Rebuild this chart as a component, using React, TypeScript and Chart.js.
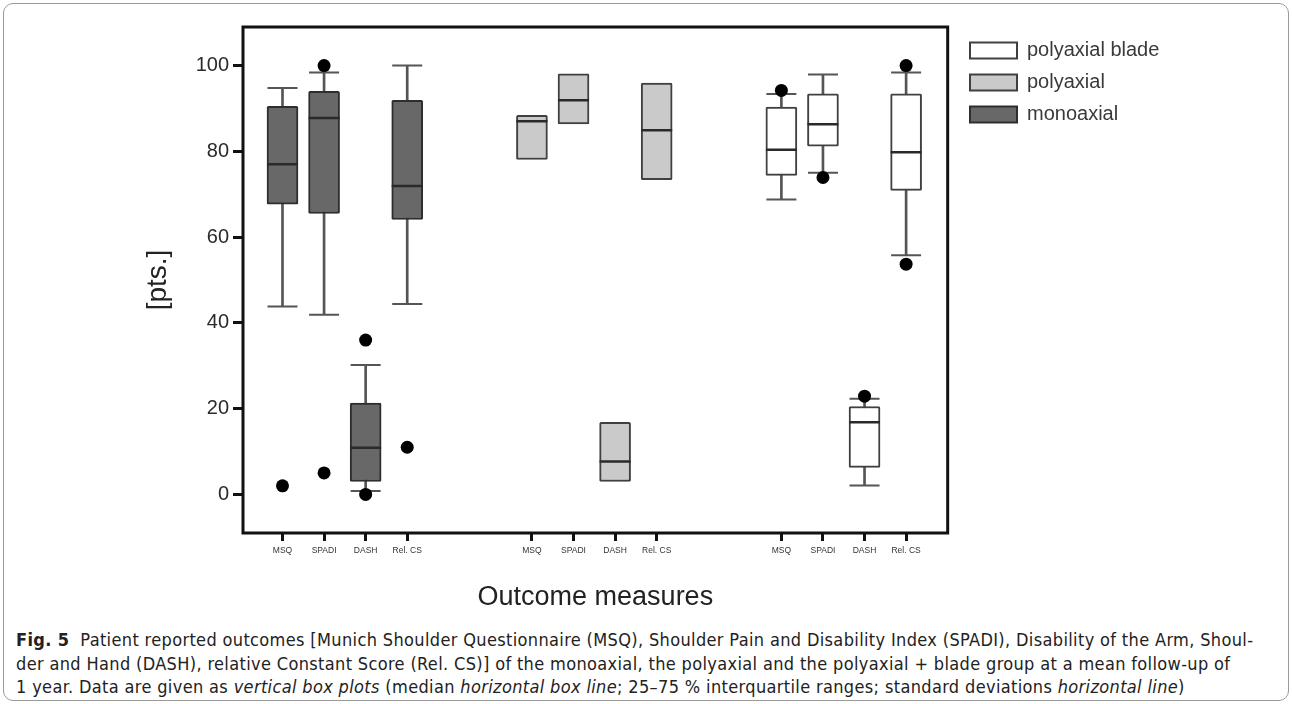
import React, { useEffect, useRef } from "react";
import { Chart, registerables } from "chart.js";

Chart.register(...registerables);

// ---- data ----
const measures = ["MSQ", "SPADI", "DASH", "Rel. CS"];
const monoSlots = [0, 1, 2, 3];
const polySlots = [6, 7, 8, 9];
const bladeSlots = [12, 13, 14, 15];
const yTicks = [0, 20, 40, 60, 80, 100];

const monoQ1 = [67.7, 65.5, 3.0, 64.1];
const monoMedian = [77.0, 87.8, 10.9, 71.9];
const monoQ3 = [90.5, 94.0, 21.3, 91.9];
const monoLow = [43.8, 41.9, 0.8, 44.4];
const monoHigh = [94.8, 98.4, 30.2, 100.0];
const monoOutliers = [[2], [100, 5], [36, 0], [11]];

const polyQ1 = [78.1, 86.4, 3.0, 73.4];
const polyMedian = [87.0, 91.9, 7.7, 84.9];
const polyQ3 = [88.4, 98.1, 16.8, 95.9];

const bladeQ1 = [74.4, 81.2, 6.3, 70.9];
const bladeMedian = [80.4, 86.3, 16.8, 79.8];
const bladeQ3 = [90.3, 93.4, 20.5, 93.4];
const bladeLow = [68.8, 75.0, 2.1, 55.8];
const bladeHigh = [93.4, 97.9, 22.3, 98.4];
const bladeOutliers = [[94.2], [73.9], [22.9], [100, 53.7]];

const legendNames = ["monoaxial", "polyaxial", "polyaxial blade"];

// ---- helpers ----
const boxData = (slots: number[], q1: number[], q3: number[]) =>
  slots.map((x, i) => ({ x, y: [q1[i], q3[i]] }));
const whiskerData = (slots: number[], lo: number[], hi: number[]) =>
  slots.map((x, i) => ({ x, y: [lo[i], hi[i]] }));
const pointData = (slots: number[], v: number[]) =>
  slots.map((x, i) => ({ x, y: v[i] }));
const capData = (slots: number[], lo: number[], hi: number[]) =>
  slots.flatMap((x, i) => [
    { x, y: lo[i] },
    { x, y: hi[i] },
  ]);
const outlierData = (slots: number[], out: number[][]) =>
  slots.flatMap((x, i) => out[i].map((y) => ({ x, y })));

const allSlots = [...monoSlots, ...polySlots, ...bladeSlots];
const slotLabel: Record<number, string> = {};
[monoSlots, polySlots, bladeSlots].forEach((s) =>
  s.forEach((v, i) => (slotLabel[v] = measures[i]))
);

const FONT = "'Liberation Sans', Arial, Helvetica, sans-serif";

const framePlugin = {
  id: "frame",
  afterLayout(chart: any) {
    const lg = chart.legend;
    if (lg) {
      const w = lg.right - lg.left;
      lg.left = 958;
      lg.right = 958 + w;
      lg.top += 1.5;
    }
  },
  afterDatasetsDraw(chart: any) {
    const { ctx, chartArea: a } = chart;
    ctx.save();
    ctx.strokeStyle = "#111";
    ctx.lineWidth = 3;
    ctx.strokeRect(a.left, a.top, a.right - a.left, a.bottom - a.top);
    ctx.restore();
  },
};

export default function App() {
  const ref = useRef<HTMLCanvasElement>(null);

  useEffect(() => {
    if (!ref.current) return;
    const boxCommon = {
      type: "bar" as const,
      grouped: false,
      barThickness: 31,
      borderWidth: 2,
      borderSkipped: false,
      borderRadius: 1.5,
      order: 5,
    };
    const whiskerCommon = {
      type: "bar" as const,
      grouped: false,
      barThickness: 2,
      backgroundColor: "#555",
      borderWidth: 0,
      order: 10,
    };
    const medianCommon = {
      type: "scatter" as const,
      pointStyle: "line",
      pointRadius: 15.5,
      pointHoverRadius: 15.5,
      borderWidth: 2.5,
      borderColor: "#2a2a2a",
      order: 2,
    };
    const capCommon = {
      type: "scatter" as const,
      pointStyle: "line",
      pointRadius: 15,
      pointHoverRadius: 15,
      borderWidth: 2,
      borderColor: "#555",
      order: 3,
    };
    const outCommon = {
      type: "scatter" as const,
      pointStyle: "circle",
      pointRadius: 6.5,
      pointHoverRadius: 6.5,
      backgroundColor: "#000",
      borderWidth: 0,
      order: 0,
    };

    const chart = new Chart(ref.current, {
      type: "bar",
      data: {
        datasets: [
          { ...boxCommon, label: legendNames[0], data: boxData(monoSlots, monoQ1, monoQ3) as any, backgroundColor: "#686868", borderColor: "#2e2e2e" },
          { ...boxCommon, label: legendNames[1], data: boxData(polySlots, polyQ1, polyQ3) as any, backgroundColor: "#cacaca", borderColor: "#404040" },
          { ...boxCommon, label: legendNames[2], data: boxData(bladeSlots, bladeQ1, bladeQ3) as any, backgroundColor: "#ffffff", borderColor: "#404040" },
          { ...whiskerCommon, label: "w1", data: whiskerData(monoSlots, monoLow, monoHigh) as any },
          { ...whiskerCommon, label: "w3", data: whiskerData(bladeSlots, bladeLow, bladeHigh) as any },
          { ...capCommon, label: "c1", data: capData(monoSlots, monoLow, monoHigh) },
          { ...capCommon, label: "c3", data: capData(bladeSlots, bladeLow, bladeHigh) },
          { ...medianCommon, label: "m1", data: pointData(monoSlots, monoMedian) },
          { ...medianCommon, label: "m2", data: pointData(polySlots, polyMedian) },
          { ...medianCommon, label: "m3", data: pointData(bladeSlots, bladeMedian) },
          { ...outCommon, label: "o1", data: outlierData(monoSlots, monoOutliers) },
          { ...outCommon, label: "o3", data: outlierData(bladeSlots, bladeOutliers) },
        ] as any,
      },
      options: {
        responsive: false,
        animation: false,
        events: [],
        layout: { padding: { left: 120, top: 27, right: 133, bottom: 0 } },
        plugins: {
          tooltip: { enabled: false },
          legend: {
            position: "right",
            align: "start",
            reverse: true,
            labels: {
              boxWidth: 47,
              boxHeight: 16,
              padding: 12,
              color: "#3a3a3a",
              font: { family: FONT, size: 20 },
              filter: (item: any) => legendNames.includes(item.text),
            },
          },
        },
        scales: {
          x: {
            type: "linear",
            min: -0.95,
            max: 16,
            offset: false,
            afterBuildTicks: (s: any) => {
              s.ticks = allSlots.map((v) => ({ value: v }));
            },
            afterFit: (s: any) => {
              s.height = 92;
            },
            ticks: {
              autoSkip: false,
              maxRotation: 0,
              padding: 5,
              color: "#333",
              font: { family: FONT, size: 8.5 },
              callback: (v: any) => slotLabel[v as number] ?? "",
            },
            grid: {
              offset: false,
              drawOnChartArea: false,
              drawTicks: true,
              tickLength: 8,
              lineWidth: 3,
              color: "#111",
            },
            border: { display: false },
            title: {
              display: true,
              text: "Outcome measures",
              color: "#222",
              font: { family: FONT, size: 27 },
              padding: { top: 0, bottom: 11 },
            },
          },
          y: {
            type: "linear",
            min: -9,
            max: 109,
            afterBuildTicks: (s: any) => {
              s.ticks = yTicks.map((v) => ({ value: v }));
            },
            afterFit: (s: any) => {
              s.width = 123;
            },
            ticks: {
              padding: 4,
              color: "#2a2a2a",
              font: { family: FONT, size: 20 },
            },
            grid: {
              drawOnChartArea: false,
              drawTicks: true,
              tickLength: 10,
              lineWidth: 3,
              color: "#111",
            },
            border: { display: false },
            title: {
              display: true,
              text: "[pts.]",
              color: "#222",
              font: { family: FONT, size: 28 },
              padding: { top: 21, bottom: 0 },
            },
          },
        },
      },
      plugins: [framePlugin],
    });
    return () => chart.destroy();
  }, []);

  const capFont = "'DejaVu Sans Condensed', 'Liberation Sans Narrow', 'Liberation Sans', sans-serif";
  const lineStyle: React.CSSProperties = { whiteSpace: "nowrap", height: 23.5, lineHeight: "23.5px" };

  return (
    <div style={{ position: "absolute", left: 0, top: 0, width: 1292, height: 704, background: "#fff", overflow: "hidden" }}>
      <div
        style={{
          position: "absolute",
          left: 3,
          top: 3,
          width: 1284,
          height: 696,
          border: "1px solid #9a9a9a",
          borderRadius: 10,
        }}
      />
      <canvas
        ref={ref}
        width={1292}
        height={625}
        style={{ position: "absolute", left: 0, top: 0, width: 1292, height: 625 }}
      />
      <div
        style={{
          position: "absolute",
          left: 16,
          top: 628,
          fontFamily: capFont,
          fontSize: 18,
          letterSpacing: "0.35px",
          color: "#222",
        }}
      >
        <div style={lineStyle}>
          <b>Fig.&nbsp;5</b>&nbsp;&nbsp;Patient reported outcomes [Munich Shoulder Questionnaire (MSQ), Shoulder Pain and Disability Index (SPADI), Disability of the Arm, Shoul-
        </div>
        <div style={lineStyle}>
          der and Hand (DASH), relative Constant Score (Rel. CS)] of the monoaxial, the polyaxial and the polyaxial + blade group at a mean follow-up of
        </div>
        <div style={lineStyle}>
          1 year. Data are given as <i>vertical box plots</i> (median <i>horizontal box line</i>; 25–75 % interquartile ranges; standard deviations <i>horizontal line</i>)
        </div>
      </div>
    </div>
  );
}
